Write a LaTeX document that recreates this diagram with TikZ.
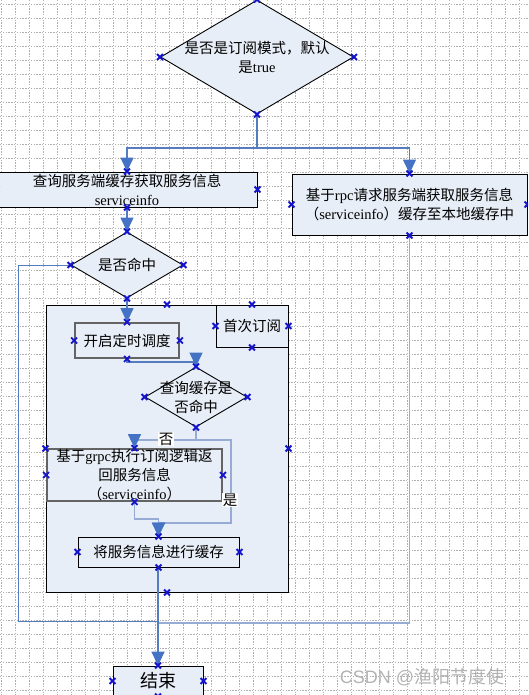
\documentclass[tikz,border=0pt]{standalone}
\usepackage{fontspec}
\setmainfont{Liberation Serif}
\newfontfamily\cjk{Noto Sans CJK SC}
\newfontfamily\wmfont{Liberation Sans}
\usetikzlibrary{shapes.geometric,shapes.misc,arrows.meta}
\newcommand{\zh}[1]{{\cjk #1}}

\definecolor{boxfill}{RGB}{232,238,247}
\definecolor{linkblue}{RGB}{84,124,190}
\definecolor{lightlink}{RGB}{150,172,212}
\definecolor{tipblue}{RGB}{68,114,196}
\definecolor{boxgray}{RGB}{100,100,100}
\definecolor{markblue}{RGB}{20,20,205}
\definecolor{gridgray}{RGB}{175,175,175}

\tikzset{
    gridln/.style={gridgray, line width=0.7pt, dash pattern=on 1.4pt off 1.4pt},
    shapebox/.style={draw=black, fill=boxfill, line width=0.9pt, inner sep=0pt,
                     align=center, font=\fontsize{14.5}{19}\selectfont},
    graybox/.style={shapebox, draw=boxgray, line width=1.8pt},
    decision/.style={diamond, shape aspect=1.7, draw=black, fill=boxfill, line width=0.9pt,
                     inner sep=0pt, align=center, font=\fontsize{14.5}{19}\selectfont},
    conn/.style={linkblue, line width=1.3pt},
    softconn/.style={lightlink, line width=1.8pt},
    arr/.style={-{Triangle[width=13pt,length=14pt,color=tipblue]}},
    tag/.style={fill=white, inner sep=1pt, font=\fontsize{14.5}{16}\selectfont},
    cpt/.style={cross out, draw=markblue, line width=1.9pt, minimum size=4pt, inner sep=0pt},
}

\begin{document}
\begin{tikzpicture}[x=1pt, y=-1pt]
    \useasboundingbox (0,0) rectangle (528,695);
    \clip (0,0) rectangle (528,695);

    % Grid
    \foreach \gx in {1,15,...,528} \draw[gridln] (\gx,0) -- (\gx,695);
    \foreach \gy in {4,18,...,695} \draw[gridln] (0,\gy) -- (528,\gy);

    % Subscription frame
    \node[shapebox, minimum width=242, minimum height=287] (grp) at (167,448.5) {};
    \node[shapebox, minimum width=72, minimum height=42] (first) at (252,326) {\zh{首次订阅}};

    % Shapes
    \node[decision, minimum width=193, minimum height=114, inner xsep=-12pt, inner ysep=-6pt]
        (mode) at (257,57) {\zh{是否是订阅模式，默认}\\\zh{是}true};
    \node[shapebox, minimum width=260, minimum height=35] (query) at (127,189.5)
        {\zh{查询服务端缓存获取服务信息}\\serviceinfo};
    \node[shapebox, minimum width=235, minimum height=61] (rpcbox) at (409.5,204.5)
        {\zh{基于}rpc\zh{请求服务端获取服务信息}\\\zh{（}serviceinfo\zh{）缓存至本地缓存中}};
    \node[decision, minimum width=112, minimum height=66] (hit) at (127,265) {\zh{是否命中}};
    \node[graybox, minimum width=104, minimum height=35] (timer) at (127,340.5) {\zh{开启定时调度}};
    \node[decision, minimum width=102, minimum height=60, inner xsep=-16pt, inner ysep=-8pt]
        (cachehit) at (196,397) {\zh{查询缓存是}\\\zh{否命中}};
    \node[graybox, minimum width=175, minimum height=52] (grpcbox) at (134.5,475)
        {\zh{基于}grpc\zh{执行订阅逻辑返}\\\zh{回服务信息}\\\zh{（}serviceinfo\zh{）}};
    \node[shapebox, minimum width=161, minimum height=30] (store) at (158.5,552)
        {\zh{将服务信息进行缓存}};
    \node[shapebox, minimum width=90, minimum height=30, font=\fontsize{18}{20}\selectfont]
        (finish) at (158,681) {\zh{结束}};

    % Connectors
    \coordinate (split) at (257,148);
    \draw[conn] (mode.south) -- (split);
    \draw[conn, arr] (split) -| (query.north);
    \draw[conn, arr] (split) -| (rpcbox.north);
    \draw[conn, arr] (query.south) -- (hit.north);
    \coordinate (loopl) at (18,621);
    \draw[conn, line width=1pt] (hit.west) -| (loopl) -- (loopl -| finish.north);
    \coordinate (loopr) at (rpcbox.south |- 0,623);
    \draw[softconn] (rpcbox.south) -- (loopr) -- (loopr -| finish.north);
    \draw[conn, arr] (hit.south) -- (timer.north);
    \draw[conn, arr] (timer.south) -- ++(0,3) -| (cachehit.north);
    \coordinate (fork) at (cachehit.south |- 0,440);
    \draw[softconn] (cachehit.south) -- (fork);
    \draw[softconn, arr] (fork) -| (grpcbox.north);
    \draw[softconn, arr] (fork) -- (231,440) -- (231,523) -| (store.north);
    \draw[softconn, arr] (grpcbox.south) -- ++(0,17) -| (store.north);
    \draw[conn, line width=1.8pt, arr] (finish.north |- store.south) -- (finish.north);

    % Branch labels
    \node[tag] (lblno) at (166,439) {\zh{否}};
    \node[tag] (lblyes) at (230,500) {\zh{是}};

    % Connection points
    \foreach \n in {mode,query,rpcbox,hit,grp,first,timer,cachehit,grpcbox,store,finish}
        \foreach \a in {north,south,east,west}
            \node[cpt] (\n-\a) at (\n.\a) {};

    % Watermark
    \node[text=gray!60, font=\wmfont\fontsize{18}{18}\selectfont] (wm) at (422,677)
        {CSDN @\zh{渔阳节度使}};
\end{tikzpicture}
\end{document}
